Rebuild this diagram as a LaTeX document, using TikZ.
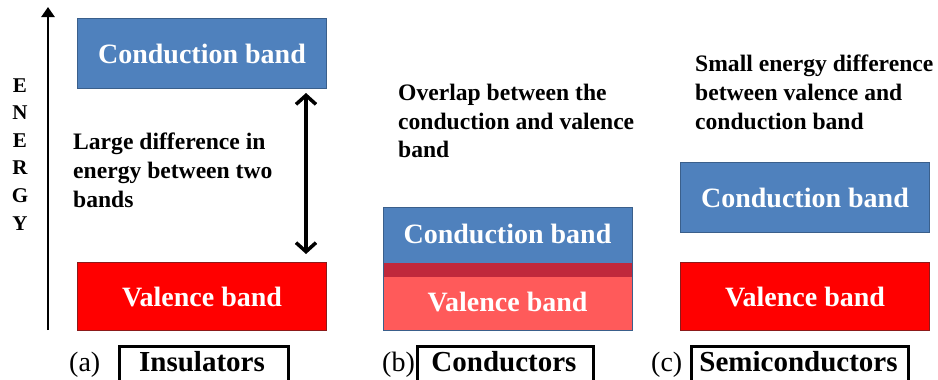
\documentclass[tikz,border=0pt]{standalone}
\usepackage{fontspec}
\setmainfont{Liberation Serif}[BoldFont={Liberation Serif Bold}]
\usetikzlibrary{arrows.meta}
\definecolor{cbblue}{HTML}{4F81BD}
\definecolor{cbborder}{HTML}{3A5F8B}
\definecolor{vbred}{HTML}{FF0000}
\definecolor{vbborder}{HTML}{8C1A1A}
\definecolor{vblight}{HTML}{FF5A5A}
\definecolor{ovstrip}{HTML}{C0283C}
\tikzset{
  bandtext/.style={text=white,font=\fontsize{28}{32}\selectfont\bfseries},
  cband/.style={draw=cbborder,line width=1pt,fill=cbblue,minimum width=249pt,inner sep=0pt},
  vband/.style={draw=vbborder,line width=1pt,fill=vbred,minimum width=249pt,inner sep=0pt},
  note/.style={font=\fontsize{23.6}{28.7}\selectfont\bfseries,align=left,anchor=north west,inner sep=0pt},
  tagbox/.style={draw=black,line width=2.5pt,inner sep=0pt,anchor=north west},
  taglabel/.style={font=\fontsize{29}{32}\selectfont\bfseries,inner sep=0pt,anchor=base},
  tagletter/.style={font=\fontsize{28}{32}\selectfont,inner sep=0pt,anchor=base west},
  energyletter/.style={font=\fontsize{21}{24}\selectfont\bfseries,inner sep=0pt},
  gaparrow/.style={line width=3.5pt,{Straight Barb[length=9pt,width=20pt,line width=3.5pt]}-{Straight Barb[length=9pt,width=20pt,line width=3.5pt]}}
}
\begin{document}
\begin{tikzpicture}[x=1pt,y=-1pt]
\useasboundingbox (0,0) rectangle (938,380);
\fill[white] (0,0) rectangle (938,380);

% energy axis
\coordinate (etail) at (48,330);
\coordinate (ehead) at (48,7);
\draw[line width=2.8pt,-{Triangle[length=10pt,width=13pt]}] (etail) -- (ehead);
\node[energyletter] (e1) at (20,86) {E};
\node[energyletter] (e2) at (20,113) {N};
\node[energyletter] (e3) at (20,141) {E};
\node[energyletter] (e4) at (20,168) {R};
\node[energyletter] (e5) at (20,196) {G};
\node[energyletter] (e6) at (20,224) {Y};

% (a) insulators
\node[cband,minimum height=70pt,anchor=north west] (ic) at (77,18) {};
\node[bandtext] (ict) at (ic.center) {Conduction band};
\node[vband,minimum height=68pt,anchor=north west] (iv) at (77,262) {};
\node[bandtext] (ivt) at (iv.center) {Valence band};
\coordinate (gtop) at (306,93);
\coordinate (gbot) at (306,254);
\draw[gaparrow] (gtop) -- (gbot);
\node[note] (inote) at (73,133) {Large difference in\\energy between two\\bands};
\node[tagletter] (ia) at (69,371) {(a)};
\node[tagbox,minimum width=169pt,minimum height=45pt] (ibox) at (118,345) {};
\node[taglabel] (ilab) at (202,371) {Insulators};

% (b) conductors
\node[note] (cnote) at (398,84) {Overlap between the\\conduction and valence\\band};
\fill[cbblue] (383,207) rectangle (632,263);
\fill[ovstrip] (383,263) rectangle (632,277);
\fill[vblight] (383,277) rectangle (632,330);
\node[draw=cbborder,line width=1pt,minimum width=249pt,minimum height=123pt,anchor=north west,inner sep=0pt] (cbox) at (383,207) {};
\node[bandtext,anchor=center] (cct) at (507.5,234) {Conduction band};
\node[bandtext,anchor=center] (cvt) at (507.5,302) {Valence band};
\node[tagletter] (cb) at (382,371) {(b)};
\node[tagbox,minimum width=176pt,minimum height=45pt] (cboxl) at (416,345) {};
\node[taglabel] (clab) at (504,371) {Conductors};

% (c) semiconductors
\node[note] (snote) at (695,55) {Small energy difference\\between valence and\\conduction band};
\node[cband,minimum height=70pt,anchor=north west] (sc) at (680,162) {};
\node[bandtext] (sct) at (sc.center) {Conduction band};
\node[vband,minimum height=68pt,anchor=north west] (sv) at (680,262) {};
\node[bandtext] (svt) at (sv.center) {Valence band};
\node[tagletter] (sc3) at (651,371) {(c)};
\node[tagbox,minimum width=217pt,minimum height=45pt] (sboxl) at (690,345) {};
\node[taglabel] (slab) at (798.5,371) {Semiconductors};
\end{tikzpicture}
\end{document}
